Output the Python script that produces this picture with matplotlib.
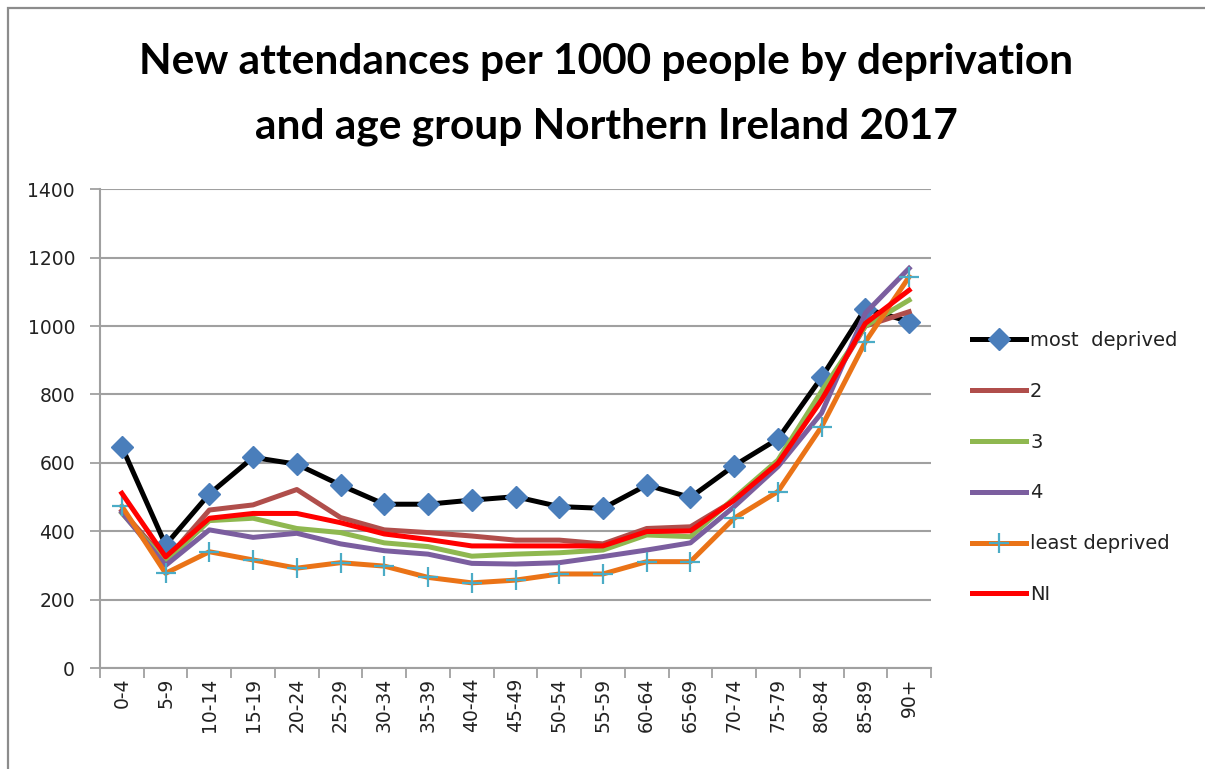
import matplotlib
matplotlib.use("Agg")
import matplotlib.pyplot as plt
from matplotlib.patches import Rectangle
import numpy as np

# Age groups on the x axis
age_groups = ["0-4", "5-9", "10-14", "15-19", "20-24", "25-29", "30-34", "35-39",
              "40-44", "45-49", "50-54", "55-59", "60-64", "65-69", "70-74",
              "75-79", "80-84", "85-89", "90+"]

# New attendances per 1000 people, by deprivation quintile
most_deprived = [647, 360, 509, 616, 596, 535, 479, 479, 491, 501, 472, 467,
                 535, 499, 592, 670, 850, 1051, 1013]
quintile_2 = [460, 315, 462, 477, 522, 440, 404, 396, 386, 374, 374, 363,
              408, 413, 490, 600, 790, 1000, 1042]
quintile_3 = [453, 310, 431, 438, 408, 396, 366, 355, 327, 333, 337, 345,
              389, 384, 497, 608, 810, 1000, 1076]
quintile_4 = [455, 300, 404, 382, 394, 363, 343, 333, 306, 304, 308, 326,
              345, 366, 472, 589, 746, 1038, 1169]
least_deprived = [473, 277, 340, 316, 292, 308, 298, 265, 249, 257, 275, 275,
                  311, 311, 438, 516, 706, 954, 1144]
ni_total = [511, 325, 438, 452, 452, 425, 392, 376, 357, 357, 357, 357,
            399, 401, 491, 599, 784, 1008, 1105]

series_labels = ["most  deprived", "2", "3", "4", "least deprived", "NI"]
y_ticks = [0, 200, 400, 600, 800, 1000, 1200, 1400]

W, H = 1205, 769
fig = plt.figure(figsize=(W / 100, H / 100), dpi=100)
fig.patch.set_facecolor("white")

# chart border
fig.patches.append(Rectangle((8 / W, -0.1), 1.2, (H - 8) / H + 0.1,
                             transform=fig.transFigure, fill=False,
                             edgecolor="#8c8c8c", linewidth=1.6))

left, right = 100 / W, 931 / W
bottom, top = (H - 668) / H, (H - 189.3) / H
ax = fig.add_axes([left, bottom, right - left, top - bottom])

x = np.arange(len(age_groups))
lw = 3.6
ax.plot(x, most_deprived, color="black", lw=lw, zorder=3,
        marker="D", ms=11, mfc="#4a7ebb", mec="#4a7ebb", label=series_labels[0])
ax.plot(x, quintile_2, color="#b04e4b", lw=lw, zorder=3, label=series_labels[1])
ax.plot(x, quintile_3, color="#8fb850", lw=lw, zorder=3, label=series_labels[2])
ax.plot(x, quintile_4, color="#7b5e9f", lw=lw, zorder=3, label=series_labels[3])
ax.plot(x, least_deprived, color="#ea7317", lw=lw, zorder=3,
        marker="+", ms=15, mew=1.6, mec="#4bacc6", label=series_labels[4])
ax.plot(x, ni_total, color="#ff0000", lw=lw, zorder=3, label=series_labels[5])

ax.set_xlim(-0.5, len(age_groups) - 0.5)
ax.set_ylim(0, 1400)
ax.set_yticks(y_ticks)
ax.set_yticklabels([str(v) for v in y_ticks], fontsize=13.5, color="#222222")
ax.yaxis.grid(True, color="#a0a0a0", lw=1.5)
ax.set_axisbelow(True)

ax.set_xticks(x)
ax.set_xticklabels(age_groups, rotation=90, fontsize=13.5, color="#222222")
ax.set_xticks(np.arange(-0.5, len(age_groups)), minor=True)
ax.tick_params(axis="x", which="major", length=0, pad=7)
ax.tick_params(axis="x", which="minor", length=7, width=1.3, color="#a0a0a0")
ax.tick_params(axis="y", length=7, width=1.3, color="#a0a0a0", pad=11)

for s in ["top", "right"]:
    ax.spines[s].set_visible(False)
for s in ["left", "bottom"]:
    ax.spines[s].set_color("#a0a0a0")
    ax.spines[s].set_linewidth(1.5)

fig.text(606 / W, 1 - 62 / H, "New attendances per 1000 people by deprivation",
         ha="center", va="center", fontsize=30.5, fontweight="bold",
         family="Lato", color="black")
fig.text(606 / W, 1 - 127 / H, "and age group Northern Ireland 2017",
         ha="center", va="center", fontsize=30.5, fontweight="bold",
         family="Lato", color="black")

leg = fig.legend(loc="upper left", bbox_to_anchor=(964 / W, 1 - 323 / H),
                 frameon=False, fontsize=14, handlelength=2.8,
                 handletextpad=0.2, labelspacing=1.64, borderaxespad=0)
for t in leg.get_texts():
    t.set_color("#222222")

fig.savefig("out.png", dpi=100, facecolor="white")
